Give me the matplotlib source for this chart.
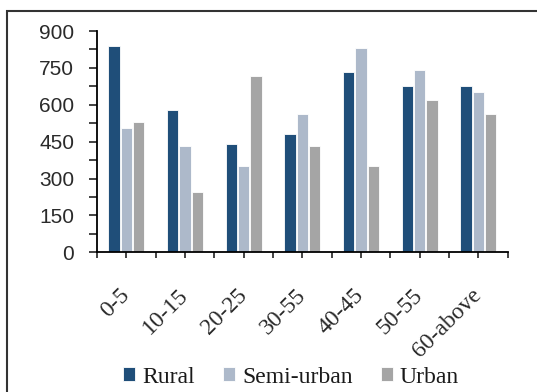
import numpy as np
import matplotlib
matplotlib.use("Agg")
import matplotlib.pyplot as plt
from matplotlib.patches import Rectangle
from matplotlib.ticker import MultipleLocator

# Data
age_groups = ["0-5", "10-15", "20-25", "30-55", "40-45", "50-55", "60-above"]
rural = [840, 579, 439, 481, 733, 676, 676]
semi_urban = [505, 431, 351, 561, 831, 741, 652]
urban = [529, 244, 717, 431, 350, 619, 561]

series_names = ["Rural", "Semi-urban", "Urban"]
colors = ["#1F4E79", "#ADB9CA", "#A5A5A5"]

fig = plt.figure(figsize=(5.37, 3.92), dpi=100)
ax = fig.add_axes([0.1806, 0.3564, 0.7648, 0.5645])

# outer frame around the whole chart (runs off the right and bottom edges)
fig.patches.append(Rectangle((6.7 / 537, -0.2), 1.2, 0.2 + (392 - 11) / 392,
                             transform=fig.transFigure, fill=False,
                             edgecolor="#333333", linewidth=1.5))

x = np.arange(len(age_groups)) + 0.5
width = 0.19
offsets = [-0.21, 0.0, 0.21]
for vals, off, col, name in zip([rural, semi_urban, urban], offsets, colors, series_names):
    ax.bar(x + off, vals, width, color=col, edgecolor="white", linewidth=0.6, label=name)

ax.set_xlim(0, len(age_groups))
ax.set_ylim(0, 900)

ax.spines["top"].set_visible(False)
ax.spines["right"].set_visible(False)
ax.spines["left"].set_linewidth(1.3)
ax.spines["bottom"].set_linewidth(1.3)

# y axis: majors every 150, minors every 75
ax.yaxis.set_major_locator(MultipleLocator(150))
ax.yaxis.set_minor_locator(MultipleLocator(75))
ax.tick_params(axis="y", which="both", direction="out", length=5.5, width=1.2, color="#222222")
ax.tick_params(axis="y", which="major", pad=11, labelsize=15, labelcolor="#2a2a2a")
for lbl in ax.get_yticklabels():
    lbl.set_fontfamily("Liberation Sans")

# x axis: ticks at group boundaries and at group centres
ax.set_xticks(np.arange(0, len(age_groups) + 1))
ax.set_xticks(x, minor=True)
ax.set_xticklabels([])
ax.set_xticklabels(age_groups, minor=True, rotation=45, ha="right", va="center",
                   rotation_mode="anchor", fontfamily="Liberation Serif", fontsize=17,
                   color="#2a2a2a")
ax.tick_params(axis="x", which="both", direction="out", length=4.5, width=1.2, color="#222222")
ax.tick_params(axis="x", which="minor", pad=24)

leg = fig.legend(loc="center", bbox_to_anchor=(0.542, 0.038), ncol=3, frameon=False,
                 prop={"family": "Liberation Serif", "size": 17},
                 handlelength=0.5, handleheight=0.5, handletextpad=0.3,
                 columnspacing=1.2, borderaxespad=0)
for t in leg.get_texts():
    t.set_color("#1a1a1a")

fig.savefig("out.png", dpi=100)
